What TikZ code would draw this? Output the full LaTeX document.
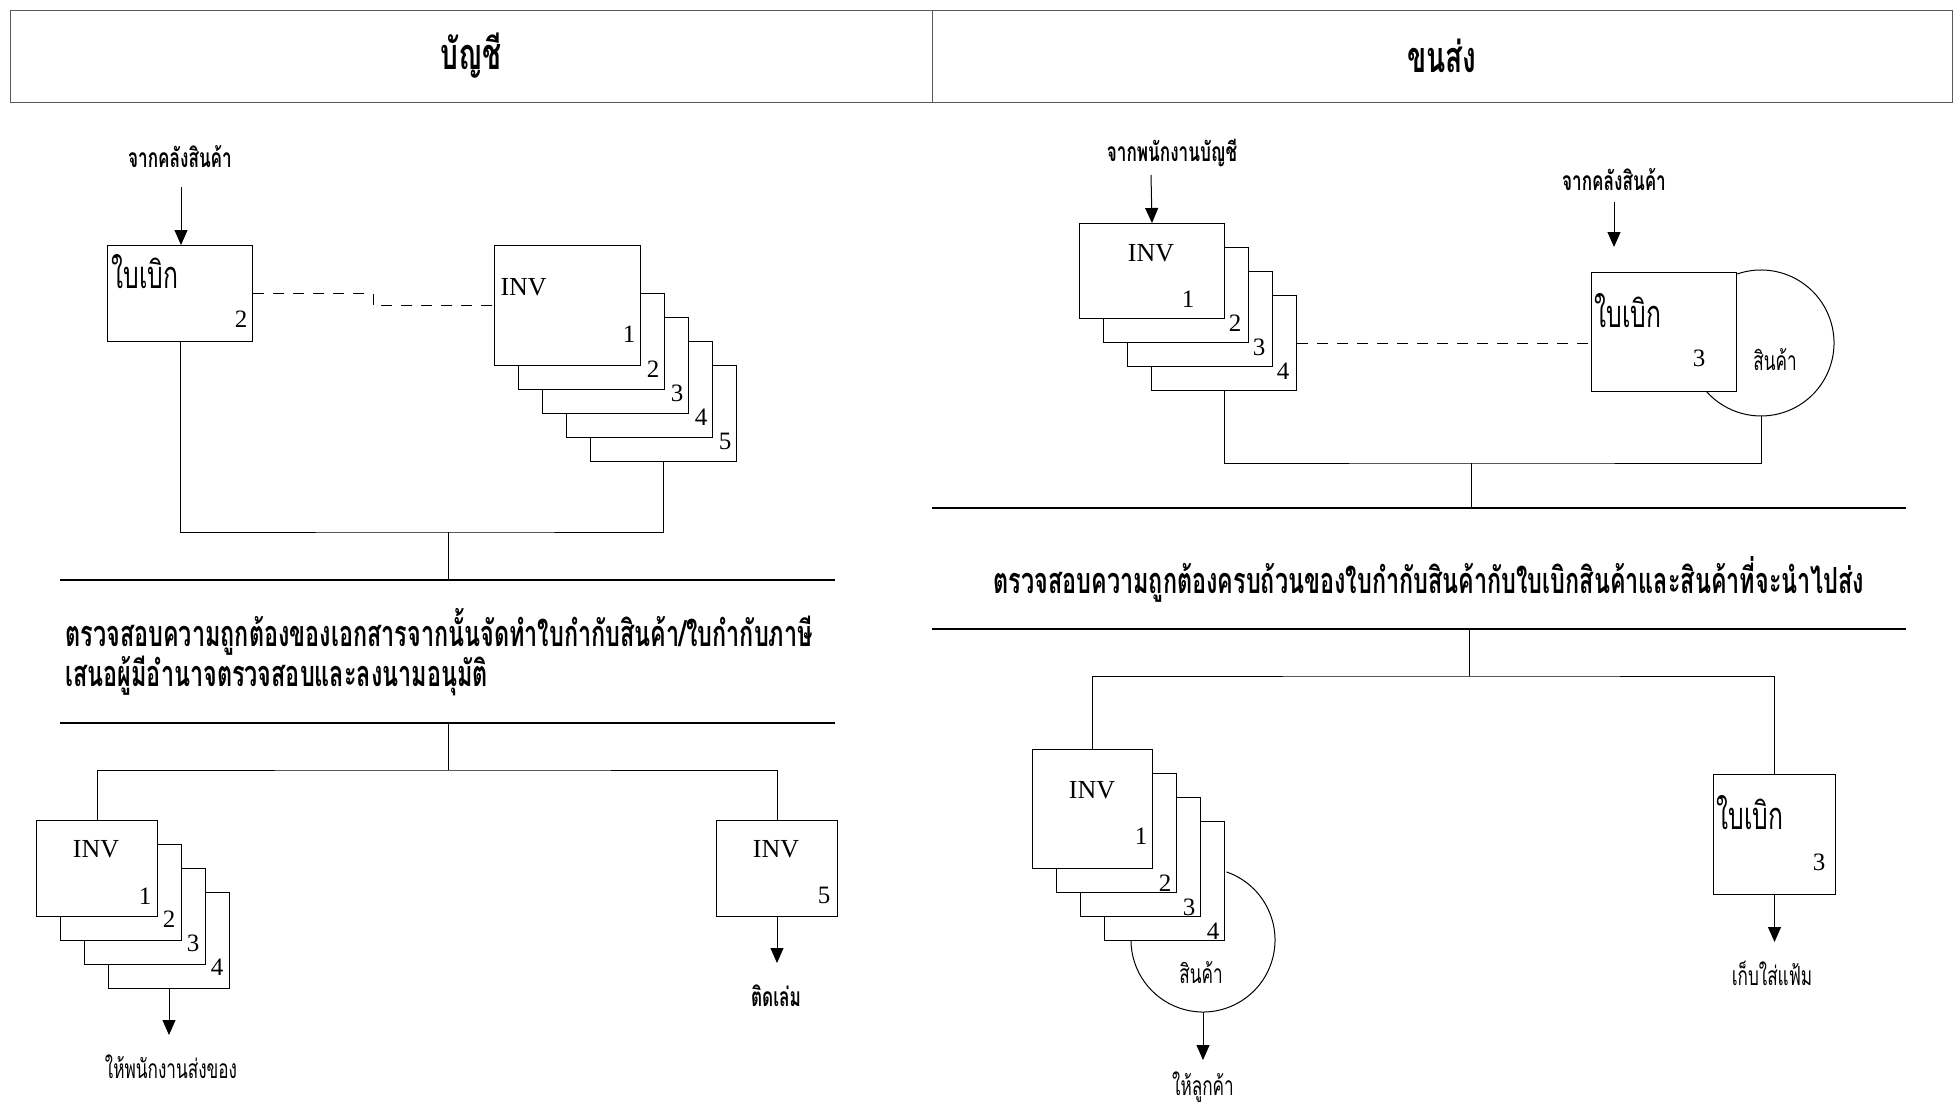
\documentclass[tikz,border=0pt]{standalone}
\usepackage{fontspec}
\setmainfont{Liberation Serif}
\newfontfamily\thai[Script=Thai, FakeStretch=0.65]{Loma}
\usetikzlibrary{arrows.meta, positioning, calc}

\begin{document}
\begin{tikzpicture}[x=0.5pt, y=-0.5pt, line width=0.5pt,
  sheet/.style 2 args={draw, fill=white, anchor=north west, inner sep=0pt, minimum width=#1, minimum height=#2},
  num/.style={font=\fontsize{12.5}{12.5}\selectfont, inner sep=0pt},
  inv/.style={font=\fontsize{13}{13}\selectfont, inner sep=0pt},
  lbl/.style={font=\thai\fontsize{13.2}{13.2}\selectfont, inner sep=0pt},
  lblb/.style={font=\thai\bfseries\fontsize{13.2}{13.2}\selectfont, inner sep=0pt},
  slip/.style={font=\thai\fontsize{19}{19}\selectfont, inner sep=0pt, anchor=west},
  para/.style={font=\thai\bfseries\fontsize{18}{18}\selectfont, inner sep=0pt},
  hdr/.style={draw=black!65, minimum height=46pt, font=\thai\bfseries\fontsize{21.6}{21.6}\selectfont},
  arr/.style={-{Triangle[width=6.5pt, length=7.5pt]}},
  dashline/.style={dash pattern=on 5.5pt off 4.5pt},
  rule/.style={line width=0.6pt}]
  \useasboundingbox (0,0) rectangle (1960,1108);

  % header
  \node[hdr, minimum width=461pt] (hdAcc) at (471,56) {บัญชี};
  \node[hdr, minimum width=510pt] (hdShip) at (1442,56) {ขนส่ง};

  % accounting: requisition and invoice set
  \node[lblb] (fromWhL) at (180,157) {จากคลังสินค้า};
  \coordinate (inL) at (181,187);
  \node[sheet={72.5pt}{48pt}] (slipL) at (107,245) {};
  \node[slip] (slipLt) at (111,272) {ใบเบิก};
  \node[num] (slipLn) at (241,319) {2};
  \draw[arr] (inL) -- (inL |- slipL.north);

  \foreach \k in {5,4,3,2} {
    \node[sheet={73pt}{48pt}] (tl\k) at ({494+24*(\k-1)},{245+24*\k}) {};
    \node[num] (ntl\k) at ($(tl\k.south east)+(-12,-21)$) {\k};
  }
  \node[sheet={73pt}{60pt}] (tl1) at (494,245) {};
  \node[inv, anchor=west] (tlInv) at (500,287) {INV};
  \node[num] (ntl1) at ($(tl1.south east)+(-12,-32)$) {1};
  \draw[dashline] (slipL.east) -- ++(120,0) |- (tl1.west);

  \coordinate (jL) at (448,532);
  \draw (slipL.south) |- (jL) -| (tl5.south);
  \coordinate (rL1) at (448,580);
  \draw (jL) -- (rL1);
  \draw[rule] (60,580) -- (835,580);
  \node[para, anchor=west] (chkL1) at (65,632) {ตรวจสอบความถูกต้องของเอกสารจากนั้นจัดทำใบกำกับสินค้า/ใบกำกับภาษี};
  \node[para, anchor=west] (chkL2) at (65,676) {เสนอผู้มีอำนาจตรวจสอบและลงนามอนุมัติ};
  \draw[rule] (60,723) -- (835,723);
  \coordinate (rL2) at (448,723);
  \coordinate (kL) at (448,770);
  \draw (rL2) -- (kL);

  % accounting: copies out
  \foreach \k in {4,3,2} {
    \node[sheet={60.5pt}{48pt}] (bl\k) at ({36+24*(\k-1)},{820+24*(\k-1)}) {};
    \node[num] (nbl\k) at ($(bl\k.south east)+(-13,-22)$) {\k};
  }
  \node[sheet={60.5pt}{48pt}] (bl1) at (36,820) {};
  \node[inv] (blInv) at (96,849) {INV};
  \node[num] (nbl1) at ($(bl1.south east)+(-13,-21)$) {1};
  \node[sheet={60.5pt}{48pt}] (inv5) at (716,820) {};
  \node[inv] (inv5t) at (776,849) {INV};
  \node[num] (inv5n) at (824,895) {5};
  \draw (bl1.north) |- (kL) -| (inv5.north);

  \coordinate (toStaff) at (169,1035);
  \draw[arr] (bl4.south) -- (bl4.south |- toStaff);
  \node[lbl] (staffL) at (171,1067) {ให้พนักงานส่งของ};
  \coordinate (toBind) at (776,963);
  \draw[arr] (inv5.south) -- (inv5.south |- toBind);
  \node[lblb] (bindL) at (776,996) {ติดเล่ม};

  % shipping: invoice set, requisition and goods
  \node[lblb] (fromAcc) at (1172,153) {จากพนักงานบัญชี};
  \coordinate (inR) at (1151,175);
  \foreach \k in {4,3,2} {
    \node[sheet={72.5pt}{47.5pt}] (tr\k) at ({1079+24*(\k-1)},{223+24*(\k-1)}) {};
    \node[num] (ntr\k) at ($(tr\k.south east)+(-14,-20)$) {\k};
  }
  \node[sheet={72.5pt}{47.5pt}] (tr1) at (1079,223) {};
  \node[inv] (trInv) at (1151,253) {INV};
  \node[num] (ntr1) at ($(tr1.south east)+(-37,-20)$) {1};
  \draw[arr] (inR) -- (tr1.north);

  \node[lblb] (fromWhR) at (1614,180) {จากคลังสินค้า};
  \coordinate (inR2) at (1614,202);
  \coordinate (gcR) at (1761,343);
  \draw ($(gcR)+(-109:73)$) arc[start angle=-109, end angle=139, radius=73];
  \node[sheet={72.5pt}{59.5pt}] (slipR) at (1591,272) {};
  \node[slip] (slipRt) at (1594,311) {ใบเบิก};
  \node[num] (slipRn) at (1699,358) {3};
  \node[lbl] (goodsR) at (1775,360) {สินค้า};
  \draw[arr, shorten >=12.5pt] (inR2) -- (inR2 |- slipR.north);
  \draw[dashline] (tr4.east) -- (tr4.east -| slipR.west);

  \coordinate (bumpR) at (1761,416);
  \coordinate (jR) at (1471,463);
  \draw (tr4.south) |- (jR) -| (bumpR);
  \coordinate (rR1) at (1471,508);
  \draw (jR) -- (rR1);
  \draw[rule] (932,508) -- (1906,508);
  \node[para] (chkR) at (1429,579) {ตรวจสอบความถูกต้องครบถ้วนของใบกำกับสินค้ากับใบเบิกสินค้าและสินค้าที่จะนำไปส่ง};
  \draw[rule] (932,629) -- (1906,629);
  \coordinate (rR2) at (1469,629);
  \coordinate (kR) at (1469,676);
  \draw (rR2) -- (kR);

  % shipping: to customer and file
  \coordinate (gcB) at (1203,940);
  \draw ($(gcB)+(-71:72)$) arc[start angle=-71, end angle=180, radius=72];
  \foreach \k in {4,3,2} {
    \node[sheet={60pt}{59.5pt}] (br\k) at ({1032+24*(\k-1)},{749+24*(\k-1)}) {};
    \node[num] (nbr\k) at ($(br\k.south east)+(-12,-10)$) {\k};
  }
  \node[sheet={60pt}{59.5pt}] (br1) at (1032,749) {};
  \node[inv] (brInv) at (1092,790) {INV};
  \node[num] (nbr1) at ($(br1.south east)+(-12,-33)$) {1};
  \node[lbl] (goodsB) at (1201,973) {สินค้า};
  \node[sheet={61pt}{60pt}] (slipB) at (1713,774) {};
  \node[slip] (slipBt) at (1716,813) {ใบเบิก};
  \node[num] (slipBn) at (1819,862) {3};
  \draw (br1.north) |- (kR) -| (slipB.north);

  \coordinate (bumpB) at (1203,1012);
  \coordinate (toCust) at (1203,1060);
  \draw[arr] (bumpB) -- (toCust);
  \node[lbl] (custL) at (1203,1087) {ให้ลูกค้า};
  \coordinate (toFile) at (1774,942);
  \draw[arr] (slipB.south) -- (slipB.south |- toFile);
  \node[lbl] (fileL) at (1772,973) {เก็บใส่แฟ้ม};
\end{tikzpicture}
\end{document}
